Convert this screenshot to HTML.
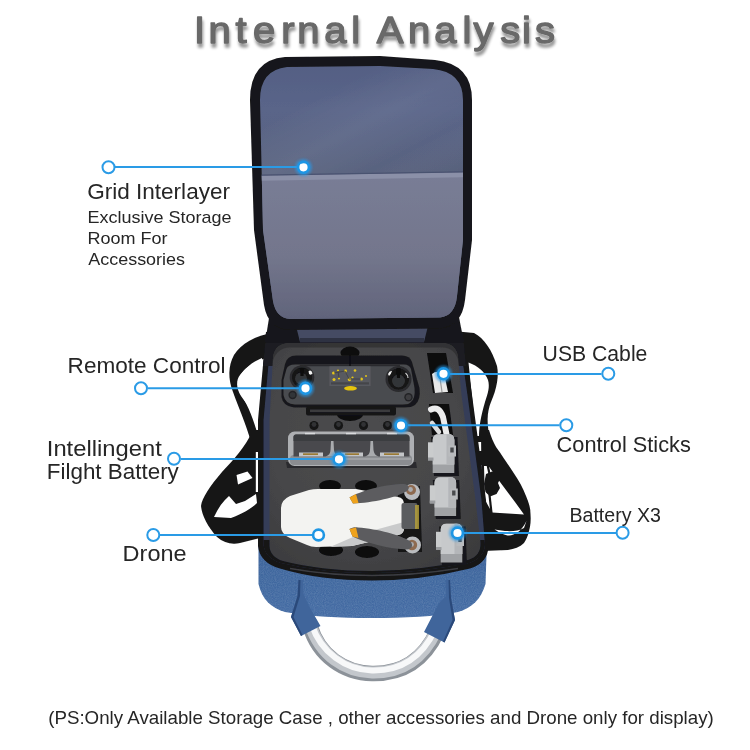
<!DOCTYPE html>
<html>
<head>
<meta charset="utf-8">
<title>Internal Analysis</title>
<style>
html,body{margin:0;padding:0;background:#fff;}
body{width:750px;height:750px;overflow:hidden;font-family:"Liberation Sans",sans-serif;}
svg{display:block;}
text{font-family:"Liberation Sans",sans-serif;}
.lbl{fill:#262626;}
</style>
</head>
<body>
<svg width="750" height="750" viewBox="0 0 750 750">
<defs>
  <filter id="tshadow" x="-10%" y="-30%" width="120%" height="180%">
    <feGaussianBlur in="SourceAlpha" stdDeviation="1.6" result="b"/>
    <feOffset in="b" dx="1" dy="4" result="o"/>
    <feComponentTransfer in="o" result="s"><feFuncA type="linear" slope="0.42"/></feComponentTransfer>
    <feMerge><feMergeNode in="s"/><feMergeNode in="SourceGraphic"/></feMerge>
  </filter>
  <filter id="denim" x="0" y="0" width="100%" height="100%">
    <feTurbulence type="fractalNoise" baseFrequency="0.9" numOctaves="2" seed="4" result="n"/>
    <feColorMatrix in="n" type="matrix" values="0 0 0 0 1  0 0 0 0 1  0 0 0 0 1  1.4 0 0 0 -0.45" result="a"/>
    <feComposite in="a" in2="SourceAlpha" operator="in"/>
  </filter>
  <filter id="blur2g" x="-50%" y="-50%" width="200%" height="200%"><feGaussianBlur stdDeviation="1.300"/></filter>
  <filter id="blur1"><feGaussianBlur stdDeviation="1"/></filter>
  <filter id="blur2"><feGaussianBlur stdDeviation="2"/></filter>
  <filter id="blur4"><feGaussianBlur stdDeviation="4"/></filter>
  <linearGradient id="lidg" x1="0" y1="0" x2="0" y2="1">
    <stop offset="0" stop-color="#475070"/>
    <stop offset="0.030" stop-color="#535e83"/>
    <stop offset="0.200" stop-color="#5a6589"/>
    <stop offset="0.420" stop-color="#59637f"/>
    <stop offset="1" stop-color="#59637f"/>
  </linearGradient>
  <linearGradient id="pocketg" x1="0" y1="0" x2="0" y2="1">
    <stop offset="0" stop-color="#797d96"/>
    <stop offset="0.500" stop-color="#73768c"/>
    <stop offset="0.850" stop-color="#62657c"/>
    <stop offset="1" stop-color="#54576c"/>
  </linearGradient>
  <linearGradient id="blueg" x1="0" y1="0" x2="0" y2="1">
    <stop offset="0" stop-color="#3b6199"/>
    <stop offset="0.5" stop-color="#40689f"/>
    <stop offset="1" stop-color="#456ca4"/>
  </linearGradient>
  <radialGradient id="foamg" cx="0.45" cy="0.40" r="0.75">
    <stop offset="0" stop-color="#4c4c4e"/>
    <stop offset="0.600" stop-color="#464648"/>
    <stop offset="1" stop-color="#3a3a3c"/>
  </radialGradient>
  <linearGradient id="sheen" x1="0" y1="0" x2="1" y2="1">
    <stop offset="0" stop-color="#ffffff" stop-opacity="0"/>
    <stop offset="0.350" stop-color="#ffffff" stop-opacity="0"/>
    <stop offset="0.550" stop-color="#ffffff" stop-opacity="0.060"/>
    <stop offset="0.750" stop-color="#ffffff" stop-opacity="0"/>
    <stop offset="1" stop-color="#000000" stop-opacity="0.080"/>
  </linearGradient>
  <filter id="soft" x="-2%" y="-2%" width="104%" height="104%"><feGaussianBlur stdDeviation="0.450"/></filter>
  <linearGradient id="tubeg" x1="0" y1="0" x2="0" y2="1">
    <stop offset="0" stop-color="#8e949b"/>
    <stop offset="0.45" stop-color="#f4f6f8"/>
    <stop offset="1" stop-color="#a9aeb5"/>
  </linearGradient>
</defs>

<rect width="750" height="750" fill="#ffffff"/>

<!-- TITLE -->
<g id="title" filter="url(#tshadow)" font-size="37.4" fill="#696969" stroke="#696969" stroke-width="1.4" stroke-linejoin="round">
  <text transform="scale(1.07,1)" y="43.100" x="181.40 194.88 220.03 236.47 262.82 277.77 303.10 328.24 352.09 381.23 405.91 432.26 442.46 467.59 487.77 500.02">InternalAnalysis</text>
</g>

<!-- BAG -->
<g id="bag" filter="url(#soft)">
  <!-- ===== straps (behind) ===== -->
  <g id="straps">
    <!-- left upper -->
    <path d="M274 333 C255 335 241 344 234 355 C228 366 228 379 233 392 C238 406 246 424 251 442 L262 442 L262 420 C256 418 250 408 241 396 C236 388 236 380 240 375 C246 367 254 362 266 358 Z" fill="#161617"/>
    <path d="M262 358 C252 362 244 369 240 376 C237 383 238 389 242 396 C248 406 254 420 258 436 L262 436 Z" fill="#ffffff"/>
    <!-- left lower loop -->
    <path d="M253 430 C245 448 233 460 222 472 C210 486 202 498 201 506 C202 516 208 527 217 537 C224 543 232 545 240 543 L260 538 L260 430 Z" fill="#151516"/>
    <path d="M214 517 C218 508 223 501 229 496 L236 504 L245 501 L256 494 L257 503 C251 509 242 514 231 518 Z" fill="#ffffff"/>
    <path d="M236.500 475 L247.500 471.500 L252.500 478 L238 484.500 Z" fill="#ffffff"/>
    <path d="M255.800 452 L258.500 452 L258.500 492 L255.800 492 Z" fill="#ffffff"/>
    <rect x="251" y="436" width="16" height="16" rx="2" fill="#151516"/>
    <!-- right upper -->
    <path d="M453 331 L474 333 C484 338 492 350 497 366 C499 376 497 388 491 402 C487 412 486 424 491 442 L474 442 L466 360 Z" fill="#161617"/>
    <path d="M468.500 362.500 C478 366 485 372 488 380 C490 387 488 393 485 402 C481 416 479 426 479 436 L476 436 Z" fill="#ffffff"/>
    <!-- right lower loop -->
    <path d="M481 430 L489 430 C492 440 495 446 500 452.500 C505 460 509 466 514 473.500 C519 481 523 488 526 496 C529 503 530.500 508 530.500 514 C531 520 530.500 526 529 531 C528 536 526 540 524 543 C520 547 514 549 508 550 L482 551 Z" fill="#151516"/>
    <path d="M484 466 L488.500 466 C494 474 500 482 506 490 C512 498 518 506 524 514.500 L492 512.500 L485 500 Z" fill="#ffffff"/>
    <path d="M486 474 L492 471.500 L497 473 L500.500 478 L498 483 L500 488 L496.500 494 L490 496.500 L485.500 492 L484 484 Z" fill="#151516"/>
    <path d="M487 462 L489.500 474" stroke="#151516" stroke-width="2.200"/>
    <path d="M489.500 495 L491.500 513" stroke="#151516" stroke-width="2.200"/>
    <path d="M494.500 529.500 C500 533 505 535.500 509 535.500 C515 535 521 532 526.500 521 L524 528 C519 531 512 531.500 505 531 Z" fill="#ffffff"/>
    <rect x="471" y="451" width="15" height="14" rx="2" fill="#151516"/>
  </g>

  <!-- ===== handle tube ===== -->
  <g fill="none" stroke-linecap="butt">
    <path d="M310 626 C319 656 344 673 372 673.500 C398 674 422 664 437 632" stroke="#8c9299" stroke-width="15.500"/>
    <path d="M310.500 625 C320 655 345 672 372 672.500 C397 673 421 663 436 631" stroke="#c3c7cc" stroke-width="12"/>
    <path d="M311.500 624 C321 653 346 670 372 670.500 C396 671 420 661 435 630" stroke="#f7f8f9" stroke-width="6"/>
  </g>

  <!-- ===== blue body ===== -->
  <path id="bluebody" d="M258.500 540 L258.500 584 C262 599 271 608 285 612 C310 616.500 340 618 372 618 C404 618 436 616.500 458 612 C472 608 481 599 485.500 584 L487 540 Z" fill="url(#blueg)"/>
  <path d="M258.500 540 L258.500 584 C262 599 271 608 285 612 C310 616.500 340 618 372 618 C404 618 436 616.500 458 612 C472 608 481 599 485.500 584 L487 540 Z" fill="#ffffff" filter="url(#denim)" opacity="0.16"/>
  <!-- handle tabs -->
  <path d="M298.500 580 L303 580 L303.500 594 L309 606 L320.500 626 L301 636 L291 617 L297.500 596 Z" fill="#3f659b"/>
  <path d="M298.500 580 L300.500 580 L300 596 L293.500 617 L302.500 635 L301 636 L291 617 L297.500 596 Z" fill="#2c4a7a"/>
  <path d="M445.500 580 L450 580 L451 598 L455 620 L444.500 642.500 L424 632 L439 603 L446 596 Z" fill="#3f659b"/>
  <path d="M448.500 580 L450 580 L451 598 L455 620 L444.500 642.500 L443 641.500 L452.500 620 L449 598 Z" fill="#2c4a7a"/>

  <!-- ===== case body ===== -->
  <path id="caseouter" d="M266 332 L463 332 L472 395 L478 440 L486 500 L488.500 546 Q488 563 470 568.500 Q421 580.500 372 580.500 Q320 580.500 280 568.500 Q260 563 258 546 L258 420 Z" fill="#141416"/>
  <path id="caselining" d="M271 336 L459 336 L467.500 395 L473.500 440 L481.500 500 L485 545 Q484 558 469 563 Q420 573 372 573 Q322 573 281 563 Q265 558 263.500 545 L263.500 420 Z" fill="#343d58"/>
  <path d="M266 333 L463 333 L466 366 L263 366 Z" fill="#1b1c20"/>
  <path id="foam" d="M290 343 L442 343 Q456 343 458 357 L461.500 395 L467.500 440 L475.500 500 L480.500 543 Q481 556 468 560 Q420 571 372 571 Q322 571 283 561 Q270 557 269.500 546 L269.500 420 L273 357 Q275 343 290 343 Z" fill="url(#foamg)"/>
  <path d="M263.500 540 L263.500 545 Q265 558 281 563 Q322 573 372 573 Q420 573 469 563 Q484 558 485 545 L484.600 540 L480.300 540 L480.500 543 Q481 556 468 560 Q420 571 372 571 Q322 571 283 561 Q270 557 269.500 546 L269.500 540 Z" fill="#141416"/>
  <!-- glossy zipper highlight -->
  <path d="M290 568.500 Q330 575.500 372 575.500 Q414 575.500 458 568.500" fill="none" stroke="#3c3e43" stroke-width="1.400"/>

  <!-- ITEMS -->
  <g id="items">
  <!-- foam shading -->
  <path d="M290 343 L442 343 Q456 343 458 357 L458.500 362 Q456 348 442 347.500 L290 347.500 Q276 348 272.700 362 L273 357 Q275 343 290 343 Z" fill="#2c2c2e" opacity="0.700"/>

  <!-- ===== remote controller ===== -->
  <ellipse cx="350" cy="353" rx="9.500" ry="6.500" fill="#0d0d0e"/>
  <ellipse cx="350" cy="414.500" rx="13" ry="6.500" fill="#0d0d0e"/>
  <!-- shadow/outline -->
  <path d="M285 364 Q287 355.500 296 355.500 L402 355.500 Q410 355.500 412 362 L419.500 388 Q421 400 415 405 Q412 407.500 404 407.500 L294 407.500 Q283 406.500 281.500 397 L281.500 380 Z" fill="#19191b"/>
  <!-- face -->
  <path d="M286.500 369 Q288 364.500 295 364.500 L404 364.500 Q409.500 364.500 411 369 L414.500 388 Q415.500 398 411 402 Q409 404.500 403 404.500 L295 404.500 Q285 404 283.500 395 L283.500 380 Z" fill="#4a4b4f"/>
  <path d="M300 364.500 L400 364.500 L400 366.300 L300 366.300 Z" fill="#2a2a2d"/>
  <!-- clamp -->
  <rect x="306" y="406.500" width="90" height="9" rx="2" fill="#161617"/>
  <rect x="310" y="409.500" width="80" height="2.600" fill="#3a3b3e"/>
  <!-- joysticks -->
  <circle cx="302" cy="377.500" r="12.300" fill="#2a2b2d"/>
  <circle cx="302" cy="377.500" r="10" fill="#121213"/>
  <circle cx="301" cy="378.500" r="6" fill="#333437"/>
  <path d="M300 368 L304 368 L303.500 376 L300.500 376 Z" fill="#0c0c0d"/>
  <path d="M308.500 371 Q311.500 369 312.500 373.500 Q311 375.500 309 374 Z" fill="#f2f2f2"/>
  <circle cx="398.500" cy="379" r="13" fill="#2a2b2d"/>
  <circle cx="398.500" cy="379" r="10.500" fill="#121213"/>
  <circle cx="398.500" cy="381" r="6.500" fill="#333437"/>
  <path d="M396.500 368 L400.500 368 L400 378 L397 378 Z" fill="#0c0c0d"/>
  <path d="M388 374 Q389.500 370.500 392 371 Q391 374.500 389 376 Z" fill="#f2f2f2"/>
  <path d="M405.500 373 Q408 375 408 378" fill="none" stroke="#d0d0d0" stroke-width="1.200"/>
  <circle cx="292.600" cy="395" r="4.200" fill="#232426"/>
  <circle cx="292.600" cy="395" r="2.800" fill="#333437"/>
  <circle cx="408.500" cy="397.300" r="4.200" fill="#232426"/>
  <circle cx="408.500" cy="397.300" r="2.800" fill="#3c3d40"/>
  <!-- sticker -->
  <rect x="329.400" y="366.300" width="41.200" height="19.700" fill="#585a60"/>
  <g fill="#e3c51a">
    <circle cx="333.500" cy="373" r="1.500"/><circle cx="338" cy="370.500" r="1.100"/><circle cx="345.500" cy="371" r="1.400"/>
    <circle cx="355" cy="370.500" r="1.300"/><circle cx="334" cy="379.500" r="1.500"/><circle cx="339" cy="378.500" r="1.100"/>
    <circle cx="349.500" cy="379.500" r="1.700"/><circle cx="352.500" cy="377.500" r="1.100"/><circle cx="361.500" cy="379" r="1.500"/>
    <circle cx="366" cy="376" r="1"/>
  </g>
  <g stroke="#3d3e43" stroke-width="0.800" fill="none"><path d="M334 373 L345 371 L349 379 L361 379"/><path d="M338 371 L339 378"/></g>
  <rect x="331" y="382.300" width="38" height="2.200" fill="#44454a"/>
  <ellipse cx="350.500" cy="388.300" rx="6.400" ry="2.300" fill="#e6c40f"/>
  <path d="M350 352 L350 366" stroke="#0f0f10" stroke-width="1.300"/>

  <!-- ===== control sticks ===== -->
  <g>
    <circle cx="314" cy="425.5" r="4.6" fill="#161617"/><circle cx="314" cy="424.5" r="2.4" fill="#303134"/>
    <circle cx="338.5" cy="425.5" r="4.6" fill="#161617"/><circle cx="338.5" cy="424.5" r="2.4" fill="#303134"/>
    <circle cx="363.5" cy="425.5" r="4.6" fill="#161617"/><circle cx="363.5" cy="424.5" r="2.4" fill="#303134"/>
    <circle cx="387.5" cy="425.5" r="4.6" fill="#161617"/><circle cx="387.5" cy="424.5" r="2.4" fill="#303134"/>
  </g>

  <!-- ===== charging hub ===== -->
  <path d="M286 462 L416 462 L417 468 L287 468 Z" fill="#2c2c2e"/>
  <rect x="288" y="431.500" width="126" height="34.500" rx="6.500" fill="#aeb0b3"/>
  <rect x="290" y="455" width="122" height="10" rx="4" fill="#8b8d91"/>
  <path d="M296 434.500 L406 434.500 Q409.500 434.500 409.500 438 L409.500 456.500 L293.500 456.500 L293.500 437 Q293.500 434.500 296 434.500 Z" fill="#48494d"/>
  <path d="M296 434.500 L406 434.500 Q409.500 434.500 409.500 438 L409.500 441 L293.500 441 L293.500 437 Q293.500 434.500 296 434.500 Z" fill="#3b3c40"/>
  <!-- dividers -->
  <path d="M331 441 L333.500 441 L334 450 Q334.500 455 339 456.500 L325.500 456.500 Q330.500 455 330.500 450 Z" fill="#a9abae"/>
  <path d="M370.500 441 L373 441 L373.500 450 Q374 455 378.500 456.500 L365 456.500 Q370 455 370 450 Z" fill="#a9abae"/>
  <g fill="#c3c5c8">
    <rect x="299" y="452.500" width="24" height="4"/><rect x="341" y="452.500" width="22" height="4"/><rect x="380" y="452.500" width="24" height="4"/>
  </g>
  <g fill="#9a7a35">
    <rect x="303" y="453.300" width="15" height="1.700"/><rect x="345" y="453.300" width="14" height="1.700"/><rect x="384" y="453.300" width="15" height="1.700"/>
  </g>
  <g fill="#d9dbdd">
    <rect x="305" y="432.800" width="10" height="1.500"/><rect x="346" y="432.800" width="10" height="1.500"/><rect x="387" y="432.800" width="10" height="1.500"/>
  </g>
  <path d="M291 459 L411 459" stroke="#a6a8ab" stroke-width="1.500"/>

  <!-- ===== drone ===== -->
  <ellipse cx="330" cy="486" rx="11" ry="6" fill="#0c0c0d"/>
  <ellipse cx="366" cy="486" rx="11" ry="6" fill="#0c0c0d"/>
  <ellipse cx="331" cy="550" rx="12" ry="6" fill="#0c0c0d"/>
  <ellipse cx="367" cy="552" rx="12" ry="6" fill="#0c0c0d"/>
  <path d="M398 486 L420 486 L422 552 L398 552 Z" fill="#121213"/>
  <!-- body -->
  <path d="M281 508 Q281 500 290 496 L309 490 Q313 489 318 489 L356 489 L398 497 Q404 498 404 504 L404 528 Q404 534 398 535 L352 546 L316 547 Q311 547 307 545 L290 538 Q281 534 281 527 Z" fill="#f3f3f1"/>
  <path d="M352 546 L398 535 Q404 534 404 528 L404 522 L360 534 L330 547 Z" fill="#c9cacb"/>
  <!-- arm -->
  <rect x="401.5" y="503" width="16" height="26" rx="2" fill="#5a5b5e"/>
  <rect x="415" y="505" width="4" height="24" fill="#b8a23a" opacity="0.8"/>
  <!-- motors -->
  <circle cx="412" cy="492" r="8" fill="#babcbf"/>
  <circle cx="411" cy="490" r="5" fill="#8e6a50"/>
  <circle cx="410.500" cy="489.500" r="2.400" fill="#a9abae"/>
  <circle cx="412.500" cy="545" r="8.500" fill="#babcbf"/>
  <circle cx="412" cy="545" r="5.200" fill="#8e6a50"/>
  <circle cx="411.500" cy="544.500" r="2.400" fill="#a9abae"/>
  <!-- props -->
  <path d="M349.500 497.500 C360 491 385 484 404 484 C409 484.500 410 488 407 491 C398 497 372 503 353 503.500 Z" fill="#5b5c5f"/>
  <path d="M349.500 497.500 L356 494 L358.500 503 L353 503.500 Z" fill="#eea21e"/>
  <path d="M349.500 529 C352 527.500 355 527 358 527.500 C378 529 400 535 410 541 C414 545 412 549 407 549.500 C390 549 366 543 352.500 536.500 Z" fill="#5b5c5f"/>
  <path d="M349.500 529 L356 527.500 L358.500 538 L352.500 536.500 Z" fill="#eea21e"/>

  <!-- ===== usb cable slots ===== -->
  <path d="M427 353 L446 353 L453 393 L433 393 Z" fill="#0b0b0c"/>
  <path d="M432 374 Q436 370 444 373 L448 392 L435 393 Z" fill="#e8e8e8"/>
  <path d="M440 378 L442 392" stroke="#9a9a9a" stroke-width="1.2"/>
  <path d="M429 404 L449 404 L453 435 L432 435 Z" fill="#0b0b0c"/>
  <path d="M431 409.500 Q439 405.500 443 417 L446.500 434" fill="none" stroke="#ececec" stroke-width="6" stroke-linecap="round"/>
  <path d="M432 423 L439 432" fill="none" stroke="#dcdcdc" stroke-width="4.500" stroke-linecap="round"/>

  <!-- ===== batteries ===== -->
  <g id="bat1">
    <path d="M431 437 L457.500 437 L459 476 L434 476 Z" fill="#18181a"/>
    <path d="M432.700 440 Q432.700 434.300 438.500 434.300 L448.500 434.300 Q454.300 434.300 454.300 440 L454.300 473 L432.700 473 Z" fill="#a0a2a5"/>
    <path d="M432.700 440 Q432.700 434.300 438.500 434.300 L448.500 434.300 Q454.300 434.300 454.300 440 L454.300 464.500 L432.700 464.500 Z" fill="#c7c9cb"/>
    <path d="M446.500 434.300 L448.500 434.300 Q454.300 434.300 454.300 440 L454.300 464.500 L446.500 464.500 Z" fill="#b4b6b9"/>
    <rect x="428" y="442.300" width="5.500" height="18" fill="#cacccd"/>
    <rect x="428" y="457.500" width="5.500" height="3" fill="#9a9c9f"/>
    <rect x="448.500" y="445.500" width="7.500" height="11" fill="#b9bbbe"/>
    <rect x="450.300" y="447.500" width="3.400" height="5" fill="#4a4b4e"/>
  </g>
  <use href="#bat1" transform="translate(1.800,43)"/>
  <use href="#bat1" transform="translate(8,89.500)"/>
</g>


  <!-- ===== lid ===== -->
  <path d="M270 312 L458 312 L464 343 L265 343 Z" fill="#17171a"/>
  <path d="M296 326 L428 326 L424 342 L300 342 Z" fill="#454b63"/>
  <path d="M300 338 L424 338 L424 342.500 L300 342.500 Z" fill="#2d3142"/>
  <path id="lidouter" d="M250 100 Q250 60 285 57 L380 56 L435 60 Q472 64 472 100 L472 240 L465 300 Q462 326 440 328.500 L290 330 Q268 329 264 305 L254 230 Z" fill="#17171a"/>
  <clipPath id="lidclip"><path d="M260 100 Q260 70 287 67 L380 66 L433 69 Q463 72 463 100 L463 240 L457 296 Q455 316 440 317.500 L290 319 Q276 318 273 301 L263 230 Z"/></clipPath>
  <g clip-path="url(#lidclip)">
    <rect x="240" y="50" width="240" height="290" fill="url(#lidg)"/>
    <rect x="240" y="50" width="240" height="126" fill="url(#sheen)"/>
    <path d="M240 176 L480 172 L480 340 L240 340 Z" fill="url(#pocketg)"/>
    <path d="M240 176 L480 172 L480 177 L240 181 Z" fill="#8b90a8"/>
    <path d="M240 175.5 L480 171.5" stroke="#4a5270" stroke-width="1.2"/>
  </g>
</g>


<!-- LEADER LINES -->
<g id="leaders">
  <g stroke="#2a9be6" stroke-width="2" fill="none">
    <path d="M115 167 L297 167"/>
    <path d="M148 388.300 L299 388.300"/>
    <path d="M181 459 L332 459"/>
    <path d="M160 535 L312 535"/>
    <path d="M450 374 L601.500 374"/>
    <path d="M408 425.300 L559.500 425.300"/>
    <path d="M464 533 L616 533"/>
  </g>
  <!-- photo-side endpoints (glow + solid) -->
  <g>
    <g fill="#2a9ae8" opacity="0.600" filter="url(#blur2g)">
      <circle cx="303.500" cy="167.300" r="8.600"/><circle cx="305.500" cy="388.300" r="8.600"/><circle cx="339" cy="459.300" r="8.600"/>
      <circle cx="443.500" cy="373.800" r="8.600"/><circle cx="401" cy="425.500" r="8.600"/><circle cx="457.500" cy="533" r="8.600"/>
    </g>
    <g fill="#ffffff" stroke="#1e96e4" stroke-width="2.600">
      <circle cx="303.500" cy="167.300" r="5.400"/><circle cx="305.500" cy="388.300" r="5.400"/><circle cx="339" cy="459.300" r="5.400"/>
      <circle cx="443.500" cy="373.800" r="5.400"/><circle cx="401" cy="425.500" r="5.400"/><circle cx="457.500" cy="533" r="5.400"/>
      <circle cx="318.500" cy="535" r="5.400"/>
    </g>
  </g>
  <!-- label-side endpoints -->
  <g fill="#ffffff" stroke="#2a9be6" stroke-width="2">
    <circle cx="108.500" cy="167.200" r="6"/>
    <circle cx="141" cy="388.300" r="6"/>
    <circle cx="174" cy="458.800" r="6"/>
    <circle cx="153.300" cy="535" r="6"/>
    <circle cx="608.300" cy="373.800" r="6"/>
    <circle cx="566.300" cy="425.300" r="6"/>
    <circle cx="622.600" cy="532.800" r="6"/>
  </g>
</g>


<!-- LABELS -->
<g id="labels" class="lbl">
  <text x="87.200" y="199.300" font-size="21.300" textLength="142.800" lengthAdjust="spacingAndGlyphs">Grid Interlayer</text>
  <text x="87.600" y="222.700" font-size="17" textLength="144" lengthAdjust="spacingAndGlyphs">Exclusive Storage</text>
  <text x="87.600" y="244" font-size="17" textLength="80" lengthAdjust="spacingAndGlyphs">Room For</text>
  <text x="88.300" y="265.300" font-size="17" textLength="96.700" lengthAdjust="spacingAndGlyphs">Accessories</text>

  <text x="67.600" y="372.600" font-size="21.400" textLength="158" lengthAdjust="spacingAndGlyphs">Remote Control</text>

  <text x="46.800" y="456" font-size="21.400" textLength="115" lengthAdjust="spacingAndGlyphs">Intellingent</text>
  <text x="46.800" y="479" font-size="21.400" textLength="132" lengthAdjust="spacingAndGlyphs">Filght Battery</text>

  <text x="122.600" y="560.600" font-size="21.400" textLength="64" lengthAdjust="spacingAndGlyphs">Drone</text>

  <text x="542.600" y="361" font-size="21.400" textLength="104.800" lengthAdjust="spacingAndGlyphs">USB Cable</text>
  <text x="556.600" y="451.600" font-size="21.400" textLength="134.200" lengthAdjust="spacingAndGlyphs">Control Sticks</text>
  <text x="569.400" y="521.700" font-size="19.500" textLength="91.600" lengthAdjust="spacingAndGlyphs">Battery X3</text>

  <text x="48.200" y="724.300" font-size="18.600" textLength="665.600" lengthAdjust="spacingAndGlyphs">(PS:Only Available Storage Case , other accessories and Drone only for display)</text>
</g>


</svg>
</body>
</html>
